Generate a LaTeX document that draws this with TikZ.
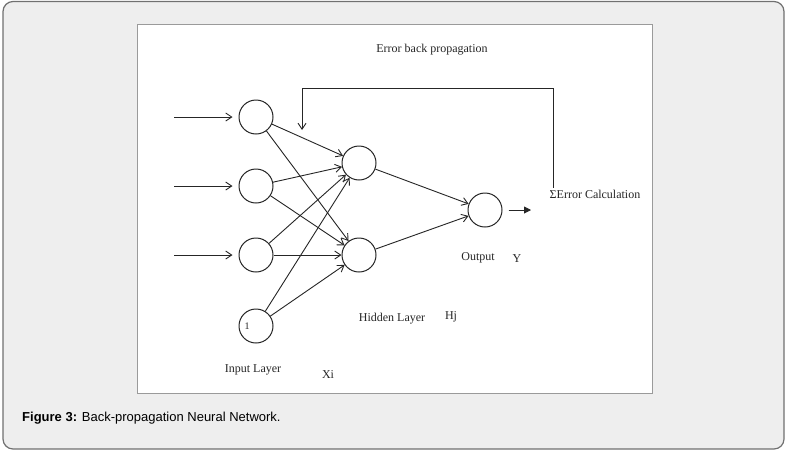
\documentclass[tikz,border=0pt]{standalone}
\usepackage{fontspec}
\setmainfont{Liberation Serif}
\newfontfamily\capfont{Liberation Sans}
\usepackage{tikz}
\usetikzlibrary{arrows.meta,positioning,calc}
\definecolor{panel}{HTML}{EEEEEE}
\definecolor{rim}{HTML}{707070}
\definecolor{frame}{HTML}{9A9A9A}
\definecolor{ink}{HTML}{262626}
\tikzset{
  neuron/.style={draw=ink,circle,line width=1pt,minimum size=34pt,inner sep=0pt},
  lbl/.style={font=\fontsize{12}{14}\selectfont,text=ink,inner sep=1pt},
  conn/.style={-{Straight Barb[length=6pt,width=8pt]},line width=0.9pt,draw=ink},
  feed/.style={conn,shorten >=6pt},
}
\begin{document}
\begin{tikzpicture}[x=1pt,y=-1pt]
\useasboundingbox (0,0) rectangle (786,453);
\draw[rim,fill=panel,line width=1.2pt,rounded corners=10pt] (3,1.5) rectangle (784,449);
\draw[frame,fill=white,line width=0.8pt] (137,24) rectangle (652,393);

% layers
\foreach \i/\y in {1/117,2/186,3/255,4/326}
  \node[neuron] (x\i) at (256,\y) {};
\node[lbl,font=\fontsize{10}{11}\selectfont] at ([xshift=-9pt]x4.center) {1};
\foreach \i/\y in {1/163,2/255}
  \node[neuron] (h\i) at (359,\y) {};
\node[neuron] (out) at (485,210) {};

% inputs
\foreach \i/\y in {1/117,2/186,3/255}{
  \coordinate (s\i) at (174,\y);
  \draw[feed] (s\i) -- (x\i);
}

% weights
\foreach \i in {1,...,4}
  \foreach \j in {1,2}
    \draw[conn] (x\i) -- (h\j);
\foreach \j in {1,2}
  \draw[conn] (h\j) -- (out);

% labels
\node[lbl] (errcalc) at (595,194) {ΣError Calculation};
\node[lbl] (backprop) at (432,50) {Error back propagation};
\node[lbl] (outlbl) at (478,258) {Output};
\node[lbl] (ylbl) at (517,259) {Y};
\node[lbl] (hidlbl) at (392,319) {Hidden Layer};
\node[lbl] (hjlbl) at (451,317) {Hj};
\node[lbl] (inlbl) at (253,370) {Input Layer};
\node[lbl] (xilbl) at (328,375) {Xi};

% output and error feedback
\coordinate (yend) at (531,210);
\draw[-{Triangle[length=7pt,width=7pt]},line width=0.9pt,draw=ink,fill=ink] ([xshift=6pt]out.east) -- (yend);
\coordinate (fbtop) at (302,88);
\coordinate (fbtip) at (302,130);
\draw[conn] ([xshift=5pt,yshift=1pt]errcalc.north west) |- (fbtop) -- (fbtip);

% caption
\node[anchor=west,inner sep=0pt,font=\capfont\fontsize{13}{15}\selectfont] (cap) at (22,418)
  {\textbf{Figure 3:} Back-propagation Neural Network.};
\end{tikzpicture}
\end{document}
